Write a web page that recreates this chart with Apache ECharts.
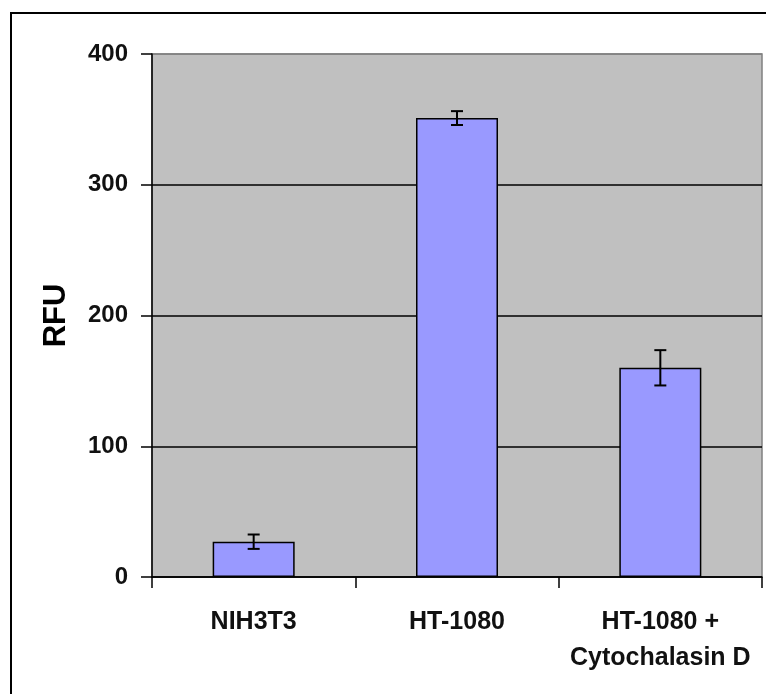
<!DOCTYPE html>
<html>
<head>
<meta charset="utf-8">
<script src="https://cdn.jsdelivr.net/npm/echarts@6/dist/echarts.min.js"></script>
<style>
html,body{margin:0;padding:0;background:#fff;}
#chart{width:766px;height:694px;}
</style>
</head>
<body>
<div id="chart"></div>
<script>
var categories = ['NIH3T3', 'HT-1080', 'HT-1080 +\nCytochalasin D'];
var values = [27, 351, 160];
var errors = [5.5, 5.3, 13.5];
var yTicks = [0, 100, 200, 300, 400];

var chart = echarts.init(document.getElementById('chart'));
var font = '"Liberation Sans", Arial, sans-serif';
var option = {
  animation: false,
  backgroundColor: '#ffffff',
  graphic: [{
    type: 'rect',
    shape: {x: 11, y: 13, width: 900, height: 900},
    style: {fill: 'none', stroke: '#000', lineWidth: 2},
    silent: true,
    z: 100
  }],
  grid: {
    left: 152, top: 54, right: 4, bottom: 117,
    show: true, backgroundColor: '#c0c0c0', borderColor: '#808080', borderWidth: 1.5
  },
  xAxis: {
    type: 'category',
    data: categories,
    axisLine: {show: true, lineStyle: {color: '#000', width: 1.5}},
    axisTick: {show: true, length: 11, lineStyle: {color: '#000', width: 1.5}},
    axisLabel: {
      color: '#111', fontFamily: font, fontWeight: 'bold', fontSize: 25,
      margin: 27, lineHeight: 36, interval: 0
    },
    splitLine: {show: false}
  },
  yAxis: {
    type: 'value',
    min: 0, max: 400, interval: 100,
    name: 'RFU',
    nameLocation: 'middle',
    nameGap: 80,
    nameRotate: 90,
    nameTextStyle: {color: '#000', fontFamily: font, fontWeight: 'bold', fontSize: 31},
    axisLine: {show: true, lineStyle: {color: '#000', width: 1.5}},
    axisTick: {show: true, length: 11, lineStyle: {color: '#000', width: 1.5}},
    axisLabel: {
      color: '#111', fontFamily: font, fontWeight: 'bold', fontSize: 24, margin: 24,
      padding: [4, 0, 0, 0],
      customValues: yTicks
    },
    splitLine: {show: true, lineStyle: {color: ['#000', '#000', '#000', '#000', '#808080'], width: 1.5}}
  },
  series: [{
    type: 'bar',
    data: values,
    barWidth: 82,
    itemStyle: {color: '#9999ff', borderColor: '#000', borderWidth: 1.5},
    z: 2
  }, {
    type: 'custom',
    data: values.map(function (v, i) { return [i, v - errors[i], v + errors[i]]; }),
    renderItem: function (params, api) {
      var lo = api.coord([api.value(0), api.value(1)]);
      var hi = api.coord([api.value(0), api.value(2)]);
      var x = lo[0], hw = 6;
      var st = {stroke: '#000', lineWidth: 2};
      return {
        type: 'group',
        children: [
          {type: 'line', shape: {x1: x, y1: lo[1], x2: x, y2: hi[1]}, style: st},
          {type: 'line', shape: {x1: x - hw, y1: lo[1], x2: x + hw, y2: lo[1]}, style: st},
          {type: 'line', shape: {x1: x - hw, y1: hi[1], x2: x + hw, y2: hi[1]}, style: st}
        ]
      };
    },
    z: 3
  }]
};
chart.setOption(option);
</script>
</body>
</html>
